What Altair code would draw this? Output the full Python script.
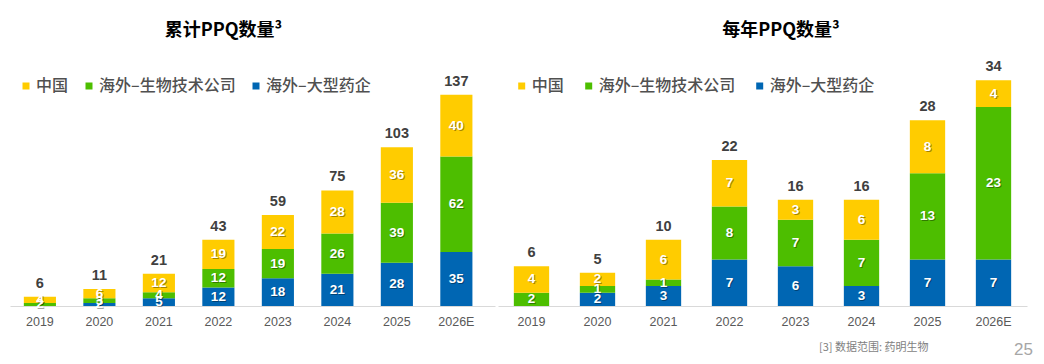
import altair as alt
import pandas as pd

years = ["2019", "2020", "2021", "2022", "2023", "2024", "2025", "2026E"]
series = ["中国", "海外–生物技术公司", "海外–大型药企"]
colors = ["#FFCC00", "#4DBE00", "#0066B3"]

cum_china = [4, 6, 12, 19, 22, 28, 36, 40]
cum_biotech = [2, 3, 4, 12, 19, 26, 39, 62]
cum_pharma = [0, 2, 5, 12, 18, 21, 28, 35]

ann_china = [4, 2, 6, 7, 3, 6, 8, 4]
ann_biotech = [2, 1, 1, 8, 7, 7, 13, 23]
ann_pharma = [0, 2, 3, 7, 6, 3, 7, 7]

title_left = "累计PPQ数量³"
title_right = "每年PPQ数量³"
footnote = "[3] 数据范围: 药明生物"
page_no = "25"

NUM_FONT = "Liberation Sans Narrow, Arial Narrow, Liberation Sans, sans-serif"
CJK = "Noto Sans CJK SC, Microsoft YaHei, sans-serif"
H = 296


def long_df(ch, bt, ph):
    rows = []
    for i, y in enumerate(years):
        for s, v, o in ((series[2], ph[i], 0), (series[1], bt[i], 1), (series[0], ch[i], 2)):
            rows.append({"year": y, "series": s, "value": v, "ord": o})
    return pd.DataFrame(rows)


def panel(df, title, width, ymax, pi, po, align, title_x, legend_x, col_pad, extra=None):
    xs = alt.Scale(paddingInner=pi, paddingOuter=po, align=align)
    x = alt.X("year:N", sort=years, scale=xs,
              axis=alt.Axis(title=None, labelAngle=0, ticks=False, domainColor="#D9D9D9",
                            domainWidth=1, labelColor="#595959", labelFontSize=12.5,
                            labelFont=NUM_FONT, labelPadding=9))
    ys = alt.Scale(domain=[0, ymax], nice=False, zero=True)
    base = alt.Chart(df)
    bars = base.mark_bar().encode(
        x=x,
        y=alt.Y("value:Q", stack="zero", scale=ys, axis=None),
        color=alt.Color("series:N", scale=alt.Scale(domain=series, range=colors),
                        legend=alt.Legend(title=None, orient="none", legendX=legend_x, legendY=68,
                                          direction="horizontal", symbolType="square",
                                          symbolSize=49, symbolStrokeWidth=0,
                                          labelFont=CJK, labelFontSize=16, labelFontWeight=500,
                                          labelColor="#505050",
                                          labelOffset=2, columnPadding=col_pad, padding=0)),
        order=alt.Order("ord:Q", sort="ascending"),
    )
    seg = base.transform_filter("datum.value > 0").transform_stack(
        stack="value", groupby=["year"], sort=[alt.SortField("ord", order="ascending")],
        as_=["y0", "y1"]).transform_calculate(mid="(datum.y0 + datum.y1) / 2")
    shadow = seg.mark_text(font=NUM_FONT, fontSize=13.5, fontWeight="bold", color="#000000",
                           opacity=0.35, dx=1, dy=1, baseline="middle").encode(
        x=alt.X("year:N", sort=years), y=alt.Y("mid:Q", scale=ys), text="value:Q")
    labels = seg.mark_text(font=NUM_FONT, fontSize=13.5, fontWeight="bold", color="#FFFFFF",
                           baseline="middle").encode(
        x=alt.X("year:N", sort=years), y=alt.Y("mid:Q", scale=ys), text="value:Q")
    tot = base.transform_aggregate(total="sum(value)", groupby=["year"]).mark_text(
        font=NUM_FONT, fontSize=14.5, fontWeight="bold", color="#404040", dy=-13,
        baseline="middle").encode(
        x=alt.X("year:N", sort=years), y=alt.Y("total:Q", scale=ys), text="total:Q")
    ttl = alt.Chart(pd.DataFrame({"t": [title]})).mark_text(
        font=CJK, fontSize=18, fontWeight="bold", color="#000000", align="center",
        baseline="middle").encode(text="t:N", x=alt.value(title_x), y=alt.value(21))
    layers = [bars, shadow, labels, tot, ttl]
    if extra:
        layers += extra
    return alt.layer(*layers).properties(width=width, height=H)


foot = alt.Chart(pd.DataFrame({"t": [footnote]})).mark_text(
    font=CJK, fontSize=11, color="#7F7F7F", align="left", baseline="middle").encode(
    text="t:N", x=alt.value(321), y=alt.value(338))
pnum = alt.Chart(pd.DataFrame({"t": [page_no]})).mark_text(
    font="Liberation Sans, sans-serif", fontSize=17, color="#A6A6A6", align="right",
    baseline="middle").encode(text="t:N", x=alt.value(535), y=alt.value(340))

left = panel(long_df(cum_china, cum_biotech, cum_pharma), title_left, 485, 192.0,
             0.46, 0.306, 0.38, 213.5, 8, 12)
right = panel(long_df(ann_china, ann_biotech, ann_pharma), title_right, 529, 44.6,
              0.465, 0.24, 0.5, 283, 15.7, 16, extra=[foot, pnum])

chart = alt.hconcat(left, right, spacing=3).resolve_scale(
    x="independent", y="independent").resolve_legend(color="independent").properties(
    padding={"left": 2, "top": 2, "right": 2, "bottom": 2}, background="#FFFFFF"
).configure_view(stroke=None)

chart.save("out.html", embed_options={"renderer": "svg", "actions": False})
